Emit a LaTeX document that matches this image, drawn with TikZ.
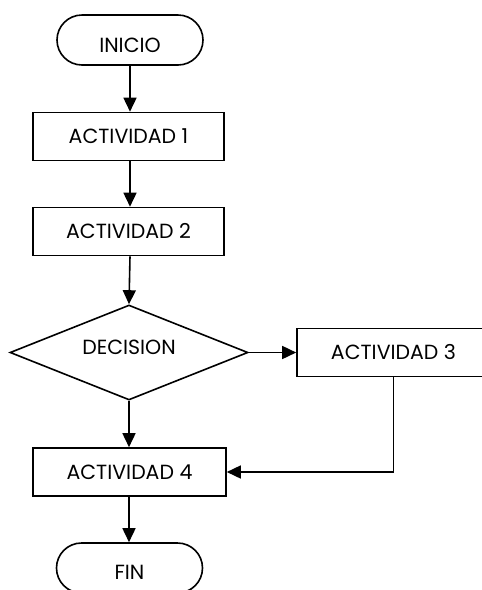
\documentclass[tikz,border=0pt]{standalone}
\usepackage{fontspec}
\setmainfont{Poppins}
\usetikzlibrary{shapes.geometric,arrows.meta}
\newcommand{\shifttext}[2]{\raisebox{#1}[\height][\depth]{#2}}
\begin{document}
\begin{tikzpicture}[x=1pt,y=1pt,
  line width=1.6pt,
  every node/.style={inner sep=0pt, font=\fontsize{20.5}{23}\selectfont},
  process/.style={draw, rectangle, minimum height=48pt},
  terminal/.style={draw, rectangle, rounded corners=25pt, minimum width=146pt, minimum height=50pt},
  decision/.style={draw, diamond, aspect=2.5, minimum width=238pt, minimum height=95pt},
  flow/.style={-{Triangle[length=14pt,width=13pt]}}]
\useasboundingbox (0,0) rectangle (482,-590);
\clip (0,0) rectangle (482,-590);

\node[terminal] (inicio) at (130,-40) {\shifttext{-5pt}{INICIO}};
\node[process, minimum width=191pt] (a1) at (128.5,-136.5) {ACTIVIDAD 1};
\node[process, minimum width=191pt] (a2) at (128.5,-231.5) {ACTIVIDAD 2};
\node[decision] (dec) at (129,-352.5) {\shifttext{5pt}{DECISION}};
\node[process, minimum width=193pt] (a3) at (393.5,-352.5) {ACTIVIDAD 3};
\node[process, minimum width=193pt] (a4) at (129.5,-472) {ACTIVIDAD 4};
\node[terminal] (fin) at (129.5,-568) {\shifttext{-4pt}{FIN}};

\draw[flow] (inicio.south) -- (inicio.south |- a1.north);
\draw[flow] (a1.south -| inicio.south) -- (inicio.south |- a2.north);
\draw[flow] (a2.south -| inicio.south) -- (dec.north);
\draw[flow] (dec.east) -- (a3.west);
\draw[flow] (dec.south) -- (dec.south |- a4.north);
\draw[flow] (a3.south) |- (a4.east);
\draw[flow] (a4.south -| dec.south) -- (dec.south |- fin.north);
\end{tikzpicture}
\end{document}
